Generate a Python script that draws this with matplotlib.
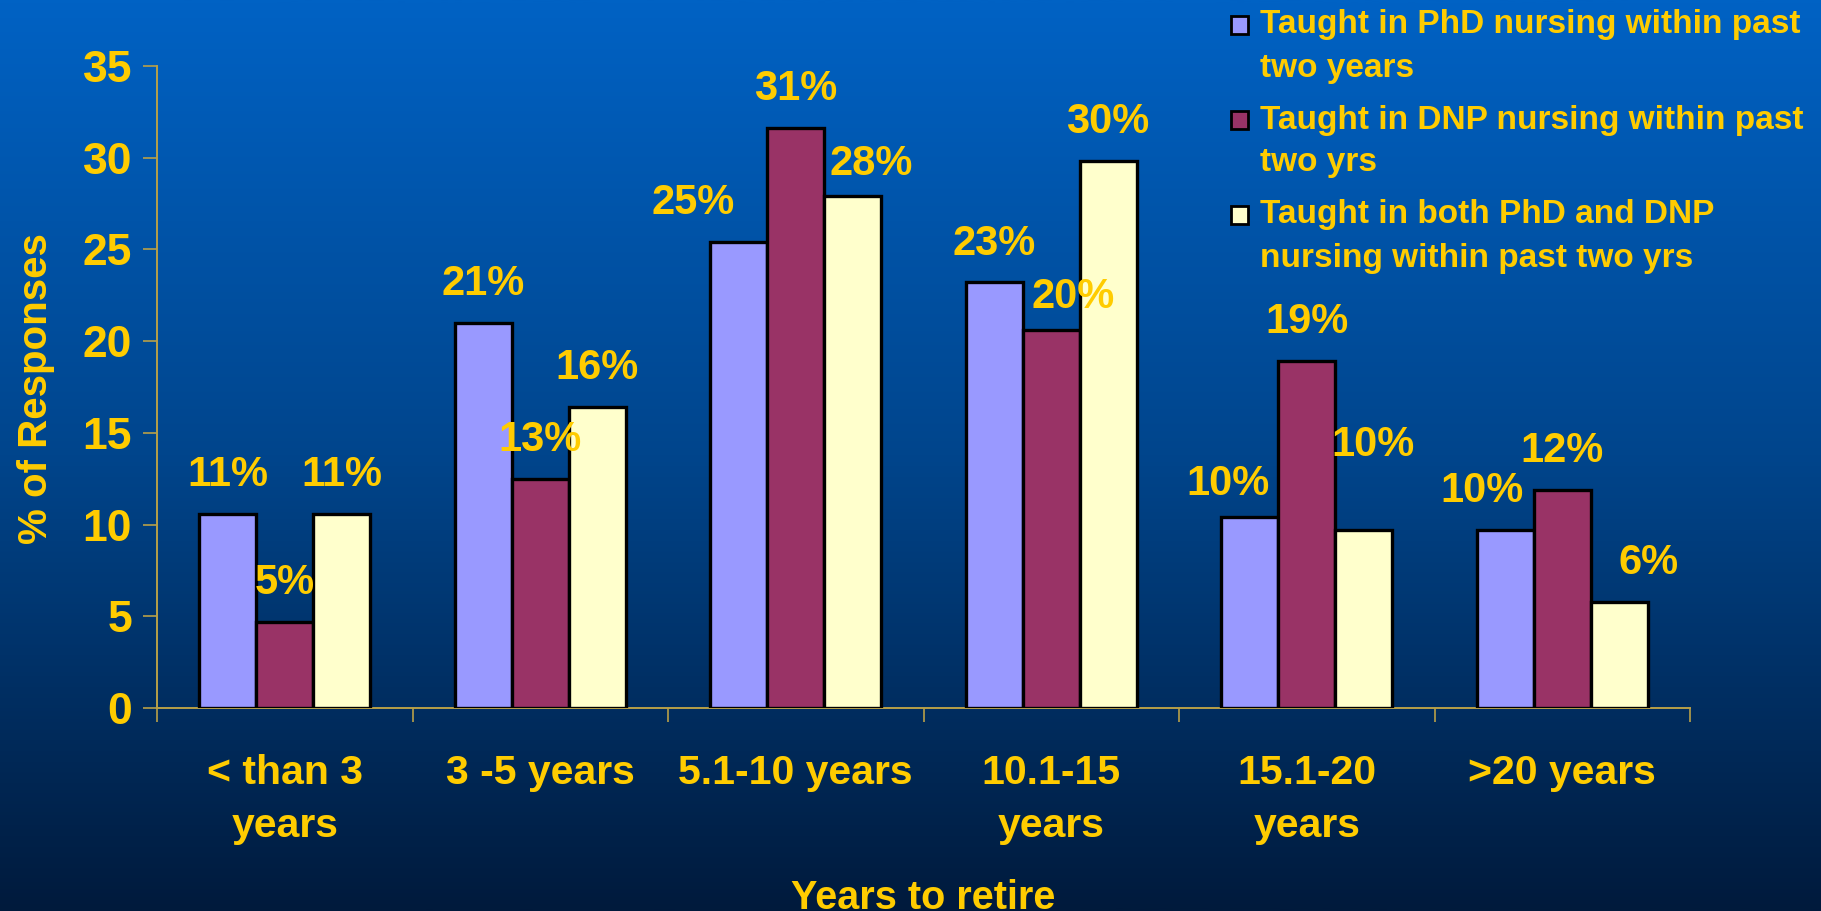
import matplotlib
matplotlib.use('Agg')
import matplotlib.pyplot as plt
import numpy as np
from matplotlib.patches import Rectangle
from matplotlib.colors import LinearSegmentedColormap

# ---------------- data ----------------
categories = ['< than 3\nyears', '3 -5 years', '5.1-10 years',
              '10.1-15\nyears', '15.1-20\nyears', '>20 years']
series_names = ['Taught in PhD nursing within past\ntwo years',
                'Taught in DNP nursing within past\ntwo yrs',
                'Taught in both PhD and DNP\nnursing within past two yrs']
phd = [10.6, 21.0, 25.4, 23.2, 10.4, 9.7]
dnp = [4.7, 12.5, 31.6, 20.6, 18.9, 11.9]
both = [10.6, 16.4, 27.9, 29.8, 9.7, 5.8]
phd_labels = ['11%', '21%', '25%', '23%', '10%', '10%']
dnp_labels = ['5%', '13%', '31%', '20%', '19%', '12%']
both_labels = ['11%', '16%', '28%', '30%', '10%', '6%']
yticks = [0, 5, 10, 15, 20, 25, 30, 35]
ylabel = '% of Responses'
xlabel = 'Years to retire'

# ---------------- style ----------------
GOLD = '#FFCC00'
AXIS_C = '#B8A048'
colors = ['#9999FF', '#993366', '#FFFFCC']
# label nudges (points) for overlapping labels: [series][category] -> (dx, dy)
nudges = [
    [(0, 0), (0, 0), (-33, 0), (0, 0), (-16, -4), (-17, 0)],
    [(0, 0), (0, 0), (0, 0), (16, -4), (0, 0), (0, 0)],
    [(0, 0), (0, 0), (13, -5), (0, 0), (7, 33), (21, 0)],
]
BOLD = ['Liberation Sans', 'DejaVu Sans']

W, H = 1821, 911
fig = plt.figure(figsize=(W / 100, H / 100), dpi=100)

# gradient background
bg = fig.add_axes([0, 0, 1, 1], zorder=-10)
cmap = LinearSegmentedColormap.from_list(
    'bg', [(0.0, '#001A3C'), (0.5, '#00458C'), (1.0, '#0062C4')])
grad = np.linspace(0, 1, 512).reshape(-1, 1)
bg.imshow(grad, aspect='auto', cmap=cmap, origin='lower',
          extent=[0, 1, 0, 1])
bg.set_xlim(0, 1)
bg.set_ylim(0, 1)
bg.axis('off')

ax = fig.add_axes([157 / W, 1 - 708 / H, (1690 - 157) / W, (708 - 66) / H])
ax.patch.set_alpha(0)

x = np.arange(len(categories))
bw = 0.2227
all_series = [phd, dnp, both]
all_labels = [phd_labels, dnp_labels, both_labels]
for s, (vals, labs) in enumerate(zip(all_series, all_labels)):
    pos = x + (s - 1) * bw
    ax.bar(pos, vals, width=bw, color=colors[s], edgecolor='black',
           linewidth=2.4, zorder=3)
    for i, (p, v, t) in enumerate(zip(pos, vals, labs)):
        dx, dy = nudges[s][i]
        ax.annotate(t, xy=(p, v), xytext=(dx, 28 + dy),
                    textcoords='offset points', ha='center', va='center',
                    color=GOLD, fontsize=30, fontweight='bold',
                    family=BOLD, zorder=5, annotation_clip=False)

ax.set_xlim(-0.5, len(categories) - 0.5)
ax.set_ylim(0, 35)
ax.set_yticks(yticks)
ax.set_yticklabels([str(t) for t in yticks], color=GOLD, fontsize=32,
                   fontweight='bold', family=BOLD)
ax.tick_params(axis='y', direction='out', length=10, width=1.2,
               color=AXIS_C, pad=8)

ax.set_xticks(x)
ax.set_xticklabels(categories, color=GOLD, fontsize=29.5, fontweight='bold',
                   family=BOLD, linespacing=1.5)
ax.tick_params(axis='x', which='major', length=0, pad=33)
ax.set_xticks(np.arange(-0.5, len(categories)), minor=True)
ax.tick_params(axis='x', which='minor', direction='out', length=10,
               width=1.2, color=AXIS_C)

for side in ['top', 'right']:
    ax.spines[side].set_visible(False)
for side in ['left', 'bottom']:
    ax.spines[side].set_color(AXIS_C)
    ax.spines[side].set_linewidth(1.4)

fig.text(36 / W, 1 - 389 / H, ylabel, rotation=90, ha='center',
         va='center', color=GOLD, fontsize=29, fontweight='bold',
         family=BOLD)
fig.text(923 / W, 1 - 879 / H, xlabel, ha='center', va='top', color=GOLD,
         fontsize=28.5, fontweight='bold', family=BOLD)

# legend (manual)
line_h = 43
entry_h = 95
y0 = 25
for k, name in enumerate(series_names):
    yc = y0 + k * entry_h
    sq = 17
    fig.patches.append(Rectangle(((1239 - sq / 2) / W, 1 - (yc + sq / 2) / H),
                                 sq / W, sq / H, transform=fig.transFigure,
                                 facecolor=colors[k], edgecolor='black',
                                 linewidth=2, figure=fig))
    for j, line in enumerate(name.split('\n')):
        fig.text(1260 / W, 1 - (yc + j * line_h) / H, line, ha='left',
                 va='center', color=GOLD, fontsize=24, fontweight='bold',
                 family=BOLD)

fig.savefig('out.png', dpi=100)
